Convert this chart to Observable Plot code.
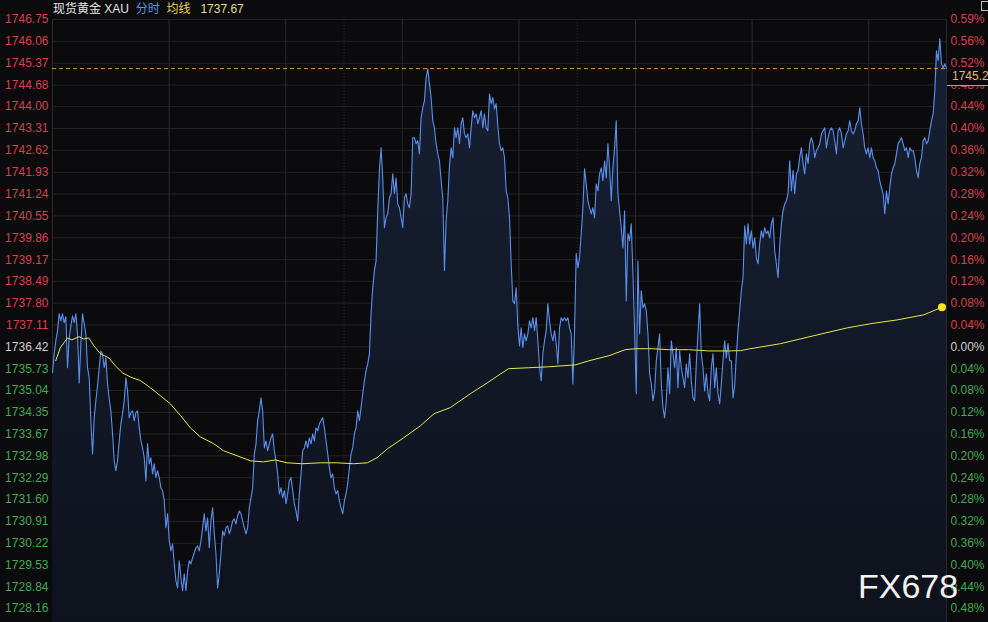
<!DOCTYPE html>
<html><head><meta charset="utf-8">
<script src="https://cdn.jsdelivr.net/npm/d3@7"></script>
<script src="https://cdn.jsdelivr.net/npm/@observablehq/plot@0.6"></script>
<style>
html,body{margin:0;padding:0;background:#0b0b0d;}
#wrap{position:relative;width:988px;height:622px;overflow:hidden;font-family:"Liberation Sans",Arial,"Noto Sans CJK SC",sans-serif;}
#wrap svg{display:block;}
.hdr{position:absolute;left:53px;top:1px;font-size:12px;line-height:16px;white-space:nowrap;font-family:"Liberation Sans","Noto Sans CJK SC",sans-serif;}
.pbox{position:absolute;left:947px;width:45px;height:18px;background:#0b0b0d;border-bottom:1px solid #d9955a;color:#e9b27a;font-size:12px;line-height:17px;padding-left:5px;box-sizing:border-box;white-space:nowrap;}
.icon{position:absolute;left:981px;top:1px;width:8px;height:10px;border:1px solid #bdbdbd;box-sizing:border-box;}
.wm{position:absolute;left:858px;top:569px;font-size:34px;line-height:34px;color:#f2f2f2;font-family:"Liberation Sans",Arial,sans-serif;white-space:nowrap;}
</style></head><body><div id="wrap"></div>
<script>
const instrument = "现货黄金 XAU";
const prevClose = 1736.42;
const sessionMinutes = 1380;
const priceTicks = [1746.75,1746.06,1745.37,1744.68,1744.00,1743.31,1742.62,1741.93,1741.24,1740.55,1739.86,1739.17,1738.49,1737.80,1737.11,1736.42,1735.73,1735.04,1734.35,1733.67,1732.98,1732.29,1731.60,1730.91,1730.22,1729.53,1728.84,1728.16];
const gridTimes = [0,180,360,540,720,900,1080,1260,1380];
const markerTimes = [450,810];
const prices = [
1735.60,1736.20,1736.61,1736.93,1737.46,1737.24,1737.46,1737.18,1737.37,1735.76,1736.70,1737.08,1737.40,1737.18,1737.46,1736.83,1735.28,1736.52,1737.46,1737.15,
1736.83,1735.76,1735.44,1734.09,1733.04,1734.18,1734.72,1735.19,1735.76,1736.29,1736.20,1735.76,1736.07,1735.25,1734.78,1734.40,1733.67,1732.82,1732.51,1732.82,
1733.45,1733.99,1734.31,1734.72,1735.44,1735.03,1734.18,1734.34,1734.40,1734.09,1734.34,1734.40,1733.86,1733.45,1733.23,1732.92,1732.19,1733.36,1732.73,1732.92,
1732.41,1732.73,1732.29,1732.51,1732.29,1731.97,1731.88,1731.56,1730.71,1731.15,1730.30,1729.98,1730.20,1729.57,1729.04,1728.81,1729.67,1729.13,1728.72,1729.26,
1728.72,1729.35,1729.67,1729.57,1729.76,1729.92,1730.08,1730.14,1729.98,1730.30,1730.71,1731.15,1730.61,1731.02,1730.08,1730.93,1731.34,1730.52,1729.89,1728.81,
1729.26,1729.89,1730.61,1730.46,1730.71,1730.77,1730.52,1730.68,1730.93,1730.99,1730.83,1731.09,1731.24,1731.15,1730.93,1730.71,1730.52,1730.71,1731.34,1731.65,
1731.97,1733.04,1733.36,1734.09,1734.40,1734.81,1734.40,1733.23,1733.45,1733.14,1733.36,1733.55,1733.67,1733.14,1732.82,1732.41,1731.78,1731.97,1731.65,1731.88,
1731.47,1731.78,1732.19,1732.29,1731.88,1731.47,1731.24,1730.93,1731.78,1732.41,1733.14,1733.23,1733.45,1733.23,1733.55,1733.36,1733.67,1733.45,1733.86,1733.77,
1733.99,1734.09,1734.18,1733.86,1733.45,1733.04,1732.60,1732.29,1732.41,1731.97,1731.78,1731.88,1731.56,1731.34,1731.15,1731.56,1731.78,1732.10,1732.60,1733.04,
1733.23,1733.67,1733.86,1734.40,1734.09,1734.50,1734.94,1735.35,1735.66,1735.88,1736.20,1737.46,1738.28,1738.82,1739.13,1740.71,1741.98,1742.70,1741.75,1740.18,
1740.49,1740.62,1741.12,1741.25,1741.88,1741.25,1741.75,1740.93,1740.81,1740.49,1740.18,1741.12,1741.25,1740.93,1740.81,1741.25,1743.02,1743.02,1742.83,1742.92,
1742.51,1743.65,1743.96,1744.18,1744.91,1745.19,1744.72,1744.28,1743.55,1743.33,1742.83,1742.51,1742.29,1741.66,1741.12,1738.82,1740.40,1741.03,1742.13,1742.70,
1742.39,1743.33,1743.02,1743.33,1742.83,1743.46,1743.65,1743.14,1743.02,1743.14,1742.70,1743.33,1743.87,1743.65,1743.77,1743.46,1743.65,1743.87,1743.33,1743.77,
1743.33,1743.24,1744.40,1744.09,1744.28,1743.93,1744.09,1743.39,1742.83,1742.61,1742.70,1742.39,1741.34,1741.12,1740.49,1739.04,1737.87,1737.78,1738.28,1737.08,
1736.45,1737.02,1736.39,1736.83,1736.61,1736.83,1737.24,1737.02,1737.34,1736.93,1737.34,1736.61,1735.76,1735.35,1736.20,1736.61,1736.93,1737.78,1737.24,1736.83,
1736.61,1736.93,1736.52,1735.88,1737.02,1737.34,1737.24,1737.34,1737.24,1737.34,1737.02,1736.83,1735.25,1736.93,1739.36,1738.91,1739.23,1739.99,1740.81,1742.04,
1741.56,1741.03,1740.81,1740.62,1740.81,1740.49,1741.56,1741.34,1741.88,1742.07,1741.66,1742.29,1741.75,1742.83,1742.07,1741.03,1742.07,1742.70,1743.55,1741.25,
1740.71,1740.18,1739.54,1740.71,1737.87,1739.99,1739.77,1740.30,1738.72,1736.93,1734.94,1739.13,1736.83,1738.19,1737.65,1737.78,1737.56,1736.83,1735.57,1735.25,
1734.72,1735.03,1735.98,1736.39,1736.83,1735.25,1734.50,1734.18,1734.72,1735.76,1734.94,1736.61,1736.20,1735.76,1736.39,1735.13,1736.29,1735.76,1735.44,1735.13,
1735.88,1735.44,1736.20,1735.35,1734.81,1734.72,1735.88,1736.83,1737.78,1736.20,1735.76,1735.03,1735.57,1734.94,1734.72,1735.76,1736.20,1735.13,1735.76,1734.94,
1734.62,1735.25,1735.98,1736.61,1736.07,1736.52,1735.98,1735.98,1734.81,1735.19,1736.14,1736.93,1737.56,1738.19,1738.60,1740.24,1739.67,1740.30,1739.67,1740.08,
1739.54,1739.86,1739.23,1739.04,1739.67,1740.08,1739.86,1740.18,1739.99,1740.08,1739.86,1740.30,1740.49,1739.45,1739.04,1738.60,1739.61,1740.30,1740.71,1740.93,
1741.03,1741.25,1742.29,1741.34,1741.98,1741.25,1741.88,1741.98,1742.39,1742.70,1742.20,1741.88,1742.51,1742.20,1742.83,1743.02,1742.83,1742.39,1742.61,1742.70,
1742.83,1743.14,1743.24,1743.33,1742.70,1743.02,1743.24,1743.33,1743.24,1742.92,1742.51,1743.24,1743.33,1743.14,1742.70,1742.92,1743.14,1743.24,1743.55,1743.24,
1743.14,1743.24,1743.46,1743.55,1743.96,1743.46,1743.14,1742.70,1742.51,1742.70,1742.39,1742.70,1742.39,1742.29,1742.07,1741.98,1741.66,1741.44,1741.25,1740.62,
1741.34,1740.93,1741.44,1741.88,1742.07,1742.20,1742.51,1742.83,1742.92,1743.02,1742.83,1742.61,1742.70,1742.39,1742.70,1742.61,1742.61,1742.39,1741.98,1741.75,
1742.20,1742.39,1742.92,1743.02,1742.83,1742.92,1743.24,1743.55,1743.77,1744.50,1745.76,1745.45,1746.14,1745.35,1745.23,1745.35,1745.20
];
const avgTimes = [5,12,23,30,41,48,56,64,74,87,97,108,120,136,151,167,182,198,213,228,249,264,285,306,326,344,362,385,414,439,465,486,501,517,542,568,589,614,645,671,692,704,735,766,807,828,859,884,900,926,951,982,1013,1044,1062,1077,1124,1175,1227,1263,1304,1345,1373];
const avgValues = [1735.98,1736.39,1736.70,1736.64,1736.74,1736.67,1736.70,1736.45,1736.20,1736.07,1735.82,1735.60,1735.47,1735.35,1735.13,1734.87,1734.62,1734.24,1733.86,1733.58,1733.36,1733.14,1732.98,1732.82,1732.79,1732.85,1732.76,1732.73,1732.76,1732.76,1732.73,1732.76,1732.92,1733.20,1733.55,1733.93,1734.31,1734.50,1734.94,1735.28,1735.57,1735.73,1735.76,1735.79,1735.85,1735.98,1736.14,1736.33,1736.36,1736.36,1736.33,1736.33,1736.29,1736.29,1736.30,1736.36,1736.52,1736.77,1737.02,1737.15,1737.27,1737.43,1737.67];

const RED = "#d8404c", GREEN = "#45a853", NEUTRAL = "#cfcfcf";
const series = prices.map((p, i) => ({t: i * sessionMinutes / (prices.length - 1), p}));
const avg = avgTimes.map((t, i) => ({t, v: avgValues[i]}));
const lastPrice = prices[prices.length - 1];
const lastAvg = avg[avg.length - 1];
const yTop = priceTicks[0];
const yBottom = 1727.72;
const tickColor = v => Math.abs(v - prevClose) < 1e-6 ? NEUTRAL : (v > prevClose ? RED : GREEN);
const pctText = v => (Math.abs(v - prevClose) / prevClose * 100).toFixed(2) + "%";

const chart = Plot.plot({
  width: 988, height: 622,
  marginLeft: 52, marginRight: 42, marginTop: 19, marginBottom: 0,
  x: {domain: [0, sessionMinutes], axis: null},
  y: {domain: [yBottom, yTop], axis: null},
  style: {background: "#0b0b0d", fontFamily: "'Liberation Sans', Arial, sans-serif", fontSize: "12px", overflow: "visible"},
  marks: [
    Plot.ruleY(priceTicks, {stroke: "#232327", strokeWidth: 1}),
    Plot.ruleX(gridTimes, {stroke: "#2a2a2f", strokeWidth: 1}),
    Plot.ruleX(markerTimes, {stroke: "#2a2a2f", strokeWidth: 1, strokeDasharray: "1,2"}),
    Plot.areaY(series, {x: "t", y1: yBottom, y2: "p", fill: "url(#areaGrad)"}),
    Plot.lineY(series, {x: "t", y: "p", stroke: "#5b8fec", strokeWidth: 1.1}),
    Plot.ruleY([lastPrice], {stroke: "#d9955a", strokeWidth: 1, strokeDasharray: "4,3"}),
    Plot.line(avg, {x: "t", y: "v", stroke: "#e8e64e", strokeWidth: 1}),
    Plot.dot([lastAvg], {x: "t", y: "v", r: 4, fill: "#ffe51f", stroke: "none"}),
    Plot.text(priceTicks, {frameAnchor: "left", y: d => d, text: d => d.toFixed(2), textAnchor: "end", dx: -4, fill: tickColor, fontSize: 12}),
    Plot.text(priceTicks, {frameAnchor: "right", y: d => d, text: pctText, textAnchor: "start", dx: 4, fill: tickColor, fontSize: 12})
  ]
});

const svgSel = d3.select(chart);
const defs = svgSel.insert("defs", ":first-child");
const grad = defs.append("linearGradient").attr("id", "areaGrad").attr("x1", 0).attr("y1", 0).attr("x2", 0).attr("y2", 1);
grad.append("stop").attr("offset", "0%").attr("stop-color", "#172034");
grad.append("stop").attr("offset", "100%").attr("stop-color", "#0e121c");

const wrap = document.getElementById("wrap");
wrap.appendChild(chart);

const hdr = document.createElement("div");
hdr.className = "hdr";
hdr.innerHTML = `<span style="color:#e6e6e6">${instrument}</span>&nbsp;&nbsp;<span style="color:#5b8fe6">分时</span>&nbsp;&nbsp;<span style="color:#e8d64a">均线</span>&nbsp;&nbsp;&nbsp;<span style="color:#e2dc98">${lastAvg.v.toFixed(2)}</span>`;
wrap.appendChild(hdr);

const yPix = chart.scale("y").apply(lastPrice);
const box = document.createElement("div");
box.className = "pbox";
box.style.top = (yPix - 0.5) + "px";
box.textContent = lastPrice.toFixed(2);
wrap.appendChild(box);

const icon = document.createElement("div");
icon.className = "icon";
wrap.appendChild(icon);

const wm = document.createElement("div");
wm.className = "wm";
wm.textContent = "FX678";
wrap.appendChild(wm);
</script>
</body></html>
